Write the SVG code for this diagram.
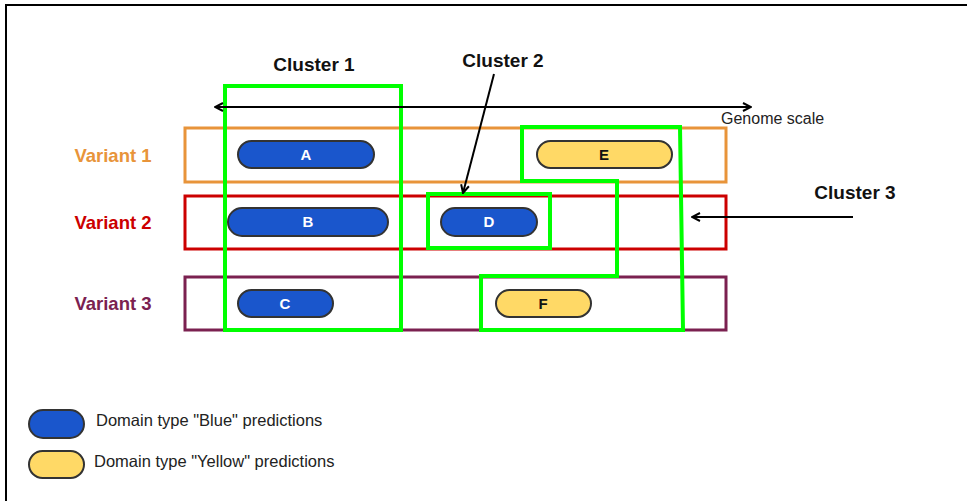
<svg xmlns="http://www.w3.org/2000/svg" width="967" height="501" viewBox="0 0 967 501">
<defs>
<style>
text{font-family:"Liberation Sans",Arial,sans-serif}
.lbl{font-size:18.5px;font-weight:bold;text-anchor:middle}
.cl{font-size:19px;font-weight:bold;fill:#111;text-anchor:middle}
.pb{fill:#1a56cc;stroke:#333;stroke-width:2}
.py{fill:#ffd966;stroke:#333;stroke-width:2}
.pt{font-size:15px;font-weight:bold;text-anchor:middle}
.grn{fill:none;stroke:#00ff00;stroke-width:4}
.ln{stroke:#000;stroke-width:2;fill:none}
.leg{font-size:16.5px;fill:#222}
</style>
<marker id="ah" viewBox="0 0 10 10" refX="9" refY="5" markerWidth="10" markerHeight="10" markerUnits="userSpaceOnUse" orient="auto-start-reverse">
<path d="M1,1 L9,5 L1,9" fill="none" stroke="#000" stroke-width="2"/>
</marker>
</defs>
<rect width="967" height="501" fill="#fff"/>
<path d="M6,501 V5 H967" fill="none" stroke="#000" stroke-width="2"/>

<g id="variant1">
<rect x="185" y="128" width="541" height="54" fill="none" stroke="#e8943a" stroke-width="3"/>
<text class="lbl" x="113" y="162" fill="#e8943a">Variant 1</text>
</g>
<g id="variant2">
<rect x="185" y="196" width="541" height="53" fill="none" stroke="#cc0000" stroke-width="3"/>
<text class="lbl" x="113" y="229" fill="#cc0000">Variant 2</text>
</g>
<g id="variant3">
<rect x="185" y="277" width="541" height="53" fill="none" stroke="#7b2150" stroke-width="3"/>
<text class="lbl" x="113" y="310" fill="#7b2150">Variant 3</text>
</g>

<g id="A"><rect class="pb" x="238" y="141" width="136" height="27" rx="13.5"/><text class="pt" x="306" y="160" fill="#fff">A</text></g>
<g id="E"><rect class="py" x="537" y="141" width="135" height="27" rx="13.5"/><text class="pt" x="604" y="160" fill="#111">E</text></g>
<g id="B"><rect class="pb" x="228" y="208" width="160" height="28" rx="14"/><text class="pt" x="308" y="227" fill="#fff">B</text></g>
<g id="D"><rect class="pb" x="441" y="208" width="96" height="28" rx="14"/><text class="pt" x="489" y="227" fill="#fff">D</text></g>
<g id="C"><rect class="pb" x="238" y="290" width="95" height="27" rx="13.5"/><text class="pt" x="285" y="309" fill="#fff">C</text></g>
<g id="F"><rect class="py" x="496" y="290" width="95" height="27" rx="13.5"/><text class="pt" x="543" y="309" fill="#111">F</text></g>

<g id="cluster1">
<rect class="grn" x="225" y="86" width="176" height="244"/>
<text class="cl" x="314" y="71">Cluster 1</text>
</g>
<g id="cluster2">
<rect class="grn" x="428" y="194" width="122" height="54"/>
<text class="cl" x="503" y="67">Cluster 2</text>
</g>
<g id="cluster3">
<path class="grn" d="M522,127 H680 L683,330 H481 V276 H617 V181 H522 Z"/>
<text class="cl" x="855" y="199">Cluster 3</text>
</g>

<g id="genome-scale">
<text x="721" y="124" font-size="16" fill="#222">Genome scale</text>
</g>

<g id="connectors">
<line class="ln" x1="215" y1="107" x2="751" y2="107" marker-start="url(#ah)" marker-end="url(#ah)"/>
<line class="ln" x1="494" y1="74" x2="463" y2="193" marker-end="url(#ah)"/>
<line class="ln" x1="853" y1="217" x2="692" y2="217" marker-end="url(#ah)"/>
</g>

<g id="legend">
<rect class="pb" x="29" y="410" width="55" height="28" rx="14"/>
<text class="leg" x="96" y="426">Domain type "Blue" predictions</text>
<rect class="py" x="29" y="451" width="55" height="27" rx="13.5"/>
<text class="leg" x="94" y="467">Domain type "Yellow" predictions</text>
</g>
</svg>
